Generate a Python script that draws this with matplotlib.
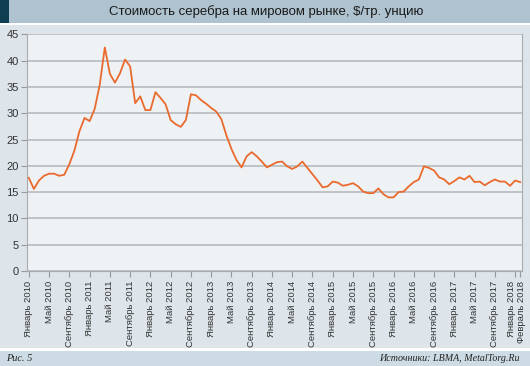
import matplotlib
matplotlib.use("Agg")
import matplotlib.pyplot as plt
import matplotlib.transforms as mtransforms
from matplotlib.patches import Rectangle

# monthly average silver price, $/troy oz, Jan 2010 .. Feb 2018
prices = [
    17.7, 15.6, 17.2, 18.1, 18.5, 18.5, 18.1, 18.3, 20.3, 22.9, 26.6, 29.1,  # 2010
    28.5, 30.8, 35.4, 42.5, 37.5, 35.8, 37.6, 40.2, 38.9, 31.9, 33.2, 30.6,  # 2011
    30.6, 34.0, 32.9, 31.7, 28.7, 27.9, 27.4, 28.7, 33.6, 33.4, 32.5, 31.8,  # 2012
    31.0, 30.3, 28.9, 25.8, 23.2, 21.1, 19.7, 21.8, 22.6, 21.8, 20.8, 19.7,  # 2013
    20.2, 20.7, 20.8, 19.9, 19.4, 19.9, 20.8, 19.6, 18.4, 17.2, 15.9, 16.1,  # 2014
    17.0, 16.8, 16.2, 16.4, 16.7, 16.1, 15.1, 14.8, 14.8, 15.7, 14.6, 14.0,  # 2015
    14.0, 15.0, 15.1, 16.1, 16.9, 17.4, 19.9, 19.6, 19.1, 17.8, 17.4, 16.5,  # 2016
    17.1, 17.8, 17.4, 18.1, 16.9, 17.0, 16.3, 16.9, 17.4, 17.0, 17.0, 16.2,  # 2017
    17.2, 16.9,                                                              # 2018
]
tick_pos = list(range(0, 97, 4)) + [97]
months = ["Январь", "Май", "Сентябрь"]
tick_labels = [f"{months[(p // 4) % 3]} {2010 + p // 12}" for p in range(0, 97, 4)] + ["Февраль 2018"]

title = "Стоимость серебра на мировом рынке, $/тр. унцию"

plt.rcParams["font.family"] = ["Liberation Sans", "DejaVu Sans"]

W, H = 530, 366
fig = plt.figure(figsize=(W / 100, H / 100), dpi=100)
fig.patch.set_facecolor("white")


def band(x0, y0, x1, y1, color):
    # rectangle in pixel units measured from the top-left corner
    fig.patches.append(Rectangle((x0 / W, 1 - y1 / H), (x1 - x0) / W, (y1 - y0) / H,
                                 transform=fig.transFigure, facecolor=color,
                                 edgecolor="none", zorder=-10))


band(0, 0, W, 22.7, "#aec3cf")
band(0, 0, 9, 22.7, "#0f3e50")
band(0, 25, W, 348.3, "#dde5ea")
band(0, 351, W, H, "#cddce4")

fig.text(266 / W, 1 - 12 / H, title, ha="center", va="center", fontsize=9.5, color="#1a1a1a")
fig.text(6 / W, 1 - 358.5 / H, "Рис. 5", ha="left", va="center", fontsize=7.4,
         family="Liberation Serif", style="italic", color="#222222")
fig.text(520 / W, 1 - 358.5 / H, "Источники: LBMA, MetalTorg.Ru", ha="right", va="center",
         fontsize=7.2, family="Liberation Serif", style="italic", color="#222222")

ax = fig.add_axes([27.3 / W, 1 - 271 / H, (521.7 - 27.3) / W, (271 - 34.3) / H])
ax.set_facecolor("#eef2f5")
ax.plot(range(len(prices)), prices, color="#ea6a2e", lw=1.3, zorder=3)

ax.set_xlim(-0.3, 97.3)
ax.set_ylim(0, 45)
ax.set_yticks(range(0, 46, 5))
ax.yaxis.grid(True, color="#b4b7b9", lw=1.1)
ax.set_axisbelow(True)
ax.set_xticks(tick_pos)
ax.set_xticklabels(tick_labels, rotation=90, fontsize=6.8, color="#333333")
ax.tick_params(axis="y", labelsize=8, labelcolor="#333333", length=4, color="#999999", pad=2)
ax.tick_params(axis="x", length=4, color="#999999", pad=3)
for s in ["left", "right", "bottom"]:
    ax.spines[s].set_color("#a8acae")
ax.spines["top"].set_visible(False)

# the last two labels sit side by side, nudge them apart
xt = ax.get_xticklabels()
xt[-2].set_transform(xt[-2].get_transform() + mtransforms.ScaledTranslation(-4 / 100, 0, fig.dpi_scale_trans))
xt[-1].set_transform(xt[-1].get_transform() + mtransforms.ScaledTranslation(1 / 100, 0, fig.dpi_scale_trans))

fig.savefig("out.png", dpi=100)
